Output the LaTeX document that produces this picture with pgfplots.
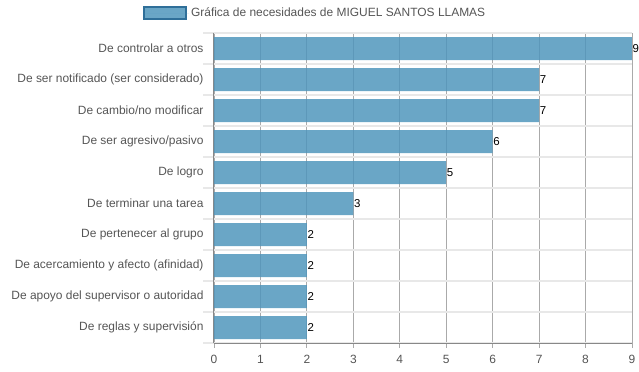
\documentclass[border=0pt]{standalone}
\usepackage{pgfplots}
\pgfplotsset{compat=1.18}
\usepackage{fontspec}
\setmainfont{Liberation Sans}
\definecolor{barc}{RGB}{80,150,188}
\definecolor{bard}{RGB}{47,111,153}
\definecolor{labc}{HTML}{555555}
\definecolor{gridc}{HTML}{AAAAAA}
\definecolor{axc}{HTML}{888888}
\definecolor{hgrid}{HTML}{E8E8E8}
\begin{document}
\begin{tikzpicture}
\begin{axis}[
  at={(0,0)}, anchor=south west, scale only axis,
  width=418bp, height=310bp,
  xmin=0, xmax=9, ymin=-0.5, ymax=9.5, y dir=reverse,
  xtick={0,...,9}, ytick={0,...,9},
  yticklabels={De controlar a otros,De ser notificado (ser considerado),De cambio/no modificar,De ser agresivo/pasivo,De logro,De terminar una tarea,De pertenecer al grupo,De acercamiento y afecto (afinidad),De apoyo del supervisor o autoridad,De reglas y supervisión},
  minor ytick={-0.5,0.5,...,9.5},
  xmajorgrids, major x grid style={gridc, line width=0.8bp},
  yminorgrids, minor y grid style={hgrid, line width=1.2bp},
  tick align=outside,
  major tick length=5bp, minor tick length=11bp,
  major y tick style={draw=none},
  minor y tick style={hgrid, line width=1.2bp},
  major x tick style={gridc, line width=0.8bp},
  axis x line*=bottom, axis y line*=left,
  x axis line style={axc, line width=0.8bp},
  y axis line style={axc, line width=1bp},
  /pgf/number format/assume math mode=true,
  ticklabel style={font=\fontsize{12}{14}\selectfont, text=labc},
  yticklabel style={xshift=-2bp},
  xticklabel style={yshift=-4bp},
  legend style={draw=none, fill=none, at={(0.242,1.0645)}, anchor=center,
    font=\fontsize{12}{14}\selectfont, text=labc, inner sep=0pt},
  legend image code/.code={\draw[fill=barc, fill opacity=0.85, draw=bard, line width=2bp] (0bp,-6bp) rectangle (42bp,6bp); \path (0bp,0bp) -- (45bp,0bp);},
  clip=false,
]
\addplot[xbar, bar width=23bp, fill=barc, fill opacity=0.85, draw=none,
  nodes near coords, nodes near coords style={anchor=west, inner sep=0.5bp, text=black, text opacity=1, font=\fontsize{11.5}{13}\selectfont}]
  coordinates {(9,0) (7,1) (7,2) (6,3) (5,4) (3,5) (2,6) (2,7) (2,8) (2,9)};
\addlegendentry{Gráfica de necesidades de MIGUEL SANTOS LLAMAS}
\end{axis}
\pgfresetboundingbox
\useasboundingbox (-214bp,-29bp) rectangle (425bp,343bp);
\end{tikzpicture}
\end{document}
